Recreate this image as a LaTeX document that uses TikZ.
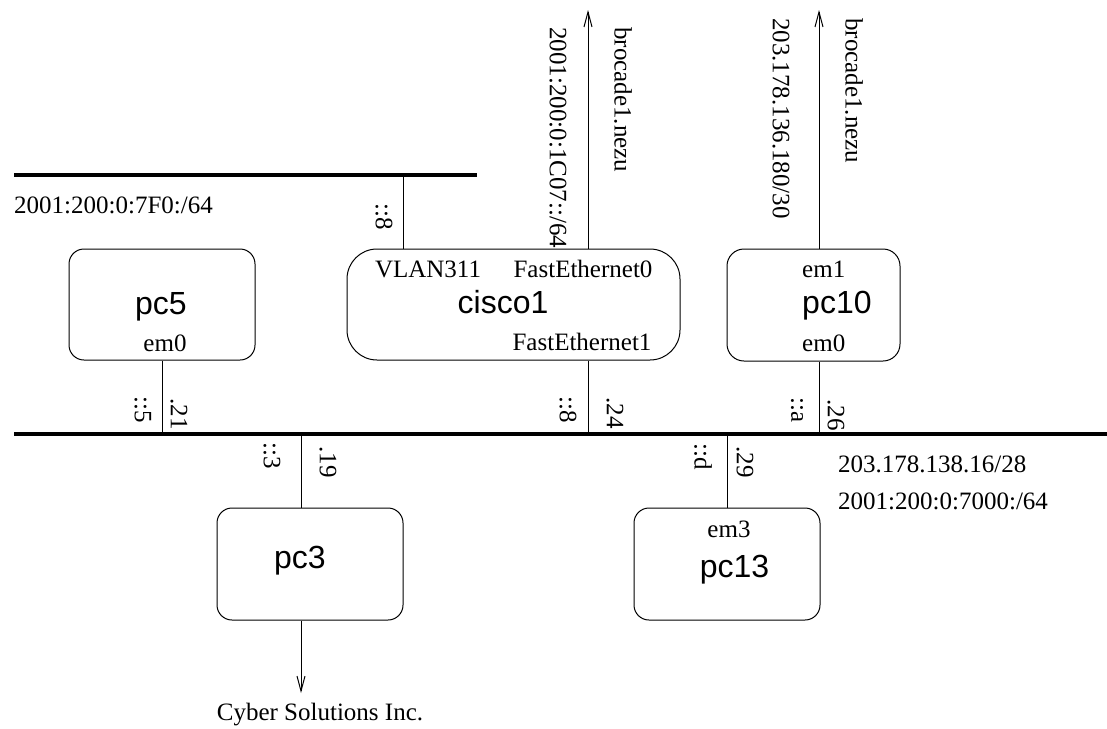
\documentclass[tikz,border=0pt]{standalone}
\usepackage{fontspec}
\setmainfont{Liberation Serif}
\setsansfont{Liberation Sans}
\usetikzlibrary{arrows.meta}
\tikzset{
  box/.style={draw, line width=1pt, inner sep=0pt, rounded corners=#1},
  box/.default=15pt,
  bus/.style={line width=4pt},
  wire/.style={line width=1pt},
  arr/.style={line width=1pt, -{Straight Barb[length=15pt,width=8pt,line width=1pt]}},
  lbl/.style={inner sep=0pt, font=\fontsize{25}{29}\selectfont},
  rlbl/.style={lbl, rotate=-90},
  host/.style={inner sep=0pt, font=\sffamily\fontsize{32}{37}\selectfont},
}
\begin{document}
\begin{tikzpicture}[x=1pt,y=-1pt]
\useasboundingbox (0,0) rectangle (1107,728);
% buses
\coordinate (tbL) at (14,175);
\coordinate (tbR) at (477,175);
\coordinate (bbL) at (14,434);
\coordinate (bbR) at (1107,434);
\draw[bus] (tbL) -- (tbR);
\draw[bus] (bbL) -- (bbR);
% boxes
\node[box, minimum width=186pt, minimum height=111pt] (pc5) at (162,304.5) {};
\node[box=30pt, minimum width=333pt, minimum height=111pt] (cisco1) at (513.5,304.5) {};
\node[box=17pt, minimum width=173pt, minimum height=112pt] (pc10) at (813.5,305) {};
\node[box, minimum width=186pt, minimum height=112pt] (pc3) at (310,564) {};
\node[box, minimum width=186pt, minimum height=112pt] (pc13) at (727,564) {};
% host names
\node[host, anchor=base] (n5) at (161,314) {pc5};
\node[host, anchor=base] (nc) at (503,313) {cisco1};
\node[host, anchor=base west] (n10) at (802,313) {pc10};
\node[host, anchor=base] (n3) at (300,568) {pc3};
\node[host, anchor=base] (n13) at (734.5,577) {pc13};
% interface names
\node[lbl, anchor=base] (i5) at (165,351) {em0};
\node[lbl, anchor=base] (ic1) at (428,277) {VLAN311};
\node[lbl, anchor=base] (ic2) at (583,277) {FastEthernet0};
\node[lbl, anchor=base] (ic3) at (582,350) {FastEthernet1};
\node[lbl, anchor=base west] (i10a) at (802,277) {em1};
\node[lbl, anchor=base west] (i10b) at (802,351) {em0};
\node[lbl, anchor=base] (i13) at (729,537) {em3};
% network labels
\node[lbl, anchor=base west] (net1) at (14,213) {2001:200:0:7F0:/64};
\node[lbl, anchor=base west] (net2) at (838,472) {203.178.138.16/28};
\node[lbl, anchor=base west] (net3) at (838,509) {2001:200:0:7000:/64};
\node[lbl, anchor=base] (cyber) at (320,720) {Cyber Solutions Inc.};
% connection coordinates
\coordinate (tv) at (403,175);
\coordinate (up1) at (588,10);
\coordinate (up2) at (819,10);
\coordinate (b5) at (162,434);
\coordinate (bc) at (588,434);
\coordinate (b10) at (819,434);
\coordinate (b3) at (301,434);
\coordinate (b13) at (727,434);
\coordinate (down3) at (301,693);
% connectors
\draw[wire] (cisco1.north -| tv) -- (tv);
\draw[arr] (cisco1.north -| up1) -- (up1);
\draw[arr] (pc10.north -| up2) -- (up2);
\draw[wire] (pc5.south -| b5) -- (b5);
\draw[wire] (cisco1.south -| bc) -- (bc);
\draw[wire] (pc10.south -| b10) -- (b10);
\draw[wire] (pc3.north -| b3) -- (b3);
\draw[wire] (pc13.north -| b13) -- (b13);
\draw[arr] (pc3.south -| down3) -- (down3);
% rotated address labels
\node[rlbl] (a1) at (384,217) {::8};
\node[rlbl, anchor=west] (a2) at (558,27) {2001:200:0:1C07::/64};
\node[rlbl, anchor=west] (a3) at (623,27) {brocade1.nezu};
\node[rlbl, anchor=west] (a4) at (781,18) {203.178.136.180/30};
\node[rlbl, anchor=west] (a5) at (854,18) {brocade1.nezu};
\node[rlbl] (a6) at (143,410) {::5};
\node[rlbl] (a7) at (179,414) {.21};
\node[rlbl] (a8) at (568,410) {::8};
\node[rlbl] (a9) at (615,413) {.24};
\node[rlbl] (a10) at (797,410) {::a};
\node[rlbl] (a11) at (836,415) {.26};
\node[rlbl] (a12) at (272,456) {::3};
\node[rlbl] (a13) at (328,462) {.19};
\node[rlbl] (a14) at (703,457) {::d};
\node[rlbl] (a15) at (745,462) {.29};
\end{tikzpicture}
\end{document}
